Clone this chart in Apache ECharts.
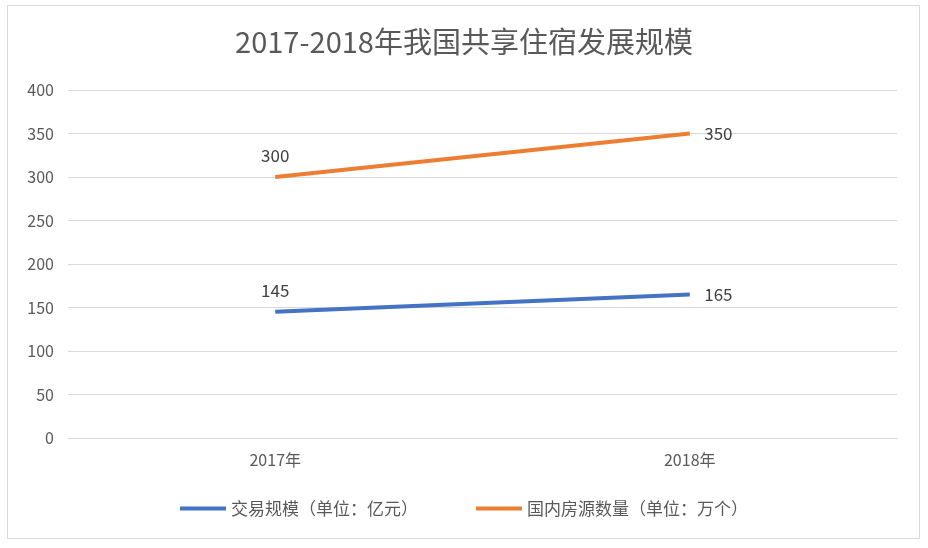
<!DOCTYPE html>
<html><head><meta charset="utf-8">
<script src="https://cdn.jsdelivr.net/npm/echarts@6/dist/echarts.min.js"></script>
<style>html,body{margin:0;padding:0;background:#fff}#c{width:928px;height:548px}
#b{position:absolute;left:7px;top:5px;width:913px;height:534px;border:1px solid #d9d9d9;box-sizing:border-box;pointer-events:none}</style>
</head><body><div id="c"></div><div id="b"></div>
<script>
const categories = ['2017年', '2018年'];
const tradeScale = [145, 165];
const listings = [300, 350];
const seriesNames = ['交易规模（单位：亿元）', '国内房源数量（单位：万个）'];
const ff = '"Noto Sans CJK SC", "DejaVu Sans", sans-serif';
function mk(name, vals, color) {
  return {
    name, type: 'line', data: vals.map((v, i) => ({
      value: v,
      label: { show: true, position: i === 0 ? 'top' : 'right', distance: i === 0 ? 12 : 14 }
    })),
    showSymbol: true, symbol: 'circle', symbolSize: 1,
    lineStyle: { color, width: 4 }, itemStyle: { color },
    label: { color: '#404040', fontSize: 17, fontFamily: ff }
  };
}
const chart = echarts.init(document.getElementById('c'));
chart.setOption({
  animation: false,
  title: { text: '2017-2018年我国共享住宿发展规模', left: 'center', top: 22,
    textStyle: { fontSize: 29, fontWeight: 'normal', color: '#595959', fontFamily: ff } },
  grid: { left: 68, right: 31, top: 90, bottom: 110, containLabel: false },
  legend: { bottom: 26, itemWidth: 46, itemHeight: 4, itemGap: 58, icon: 'rect',
    textStyle: { fontSize: 17, color: '#595959', fontFamily: ff } },
  xAxis: { type: 'category', data: categories, boundaryGap: true,
    axisLine: { lineStyle: { color: '#d9d9d9' } }, axisTick: { show: false },
    axisLabel: { fontSize: 16, color: '#595959', fontFamily: ff, margin: 14 } },
  yAxis: { type: 'value', min: 0, max: 400, interval: 50,
    axisLine: { show: false }, axisTick: { show: false },
    splitLine: { lineStyle: { color: '#d9d9d9' } },
    axisLabel: { fontSize: 16, color: '#595959', fontFamily: ff, margin: 14 } },
  series: [mk(seriesNames[0], tradeScale, '#4472C4'), mk(seriesNames[1], listings, '#ED7D31')]
});
</script></body></html>
